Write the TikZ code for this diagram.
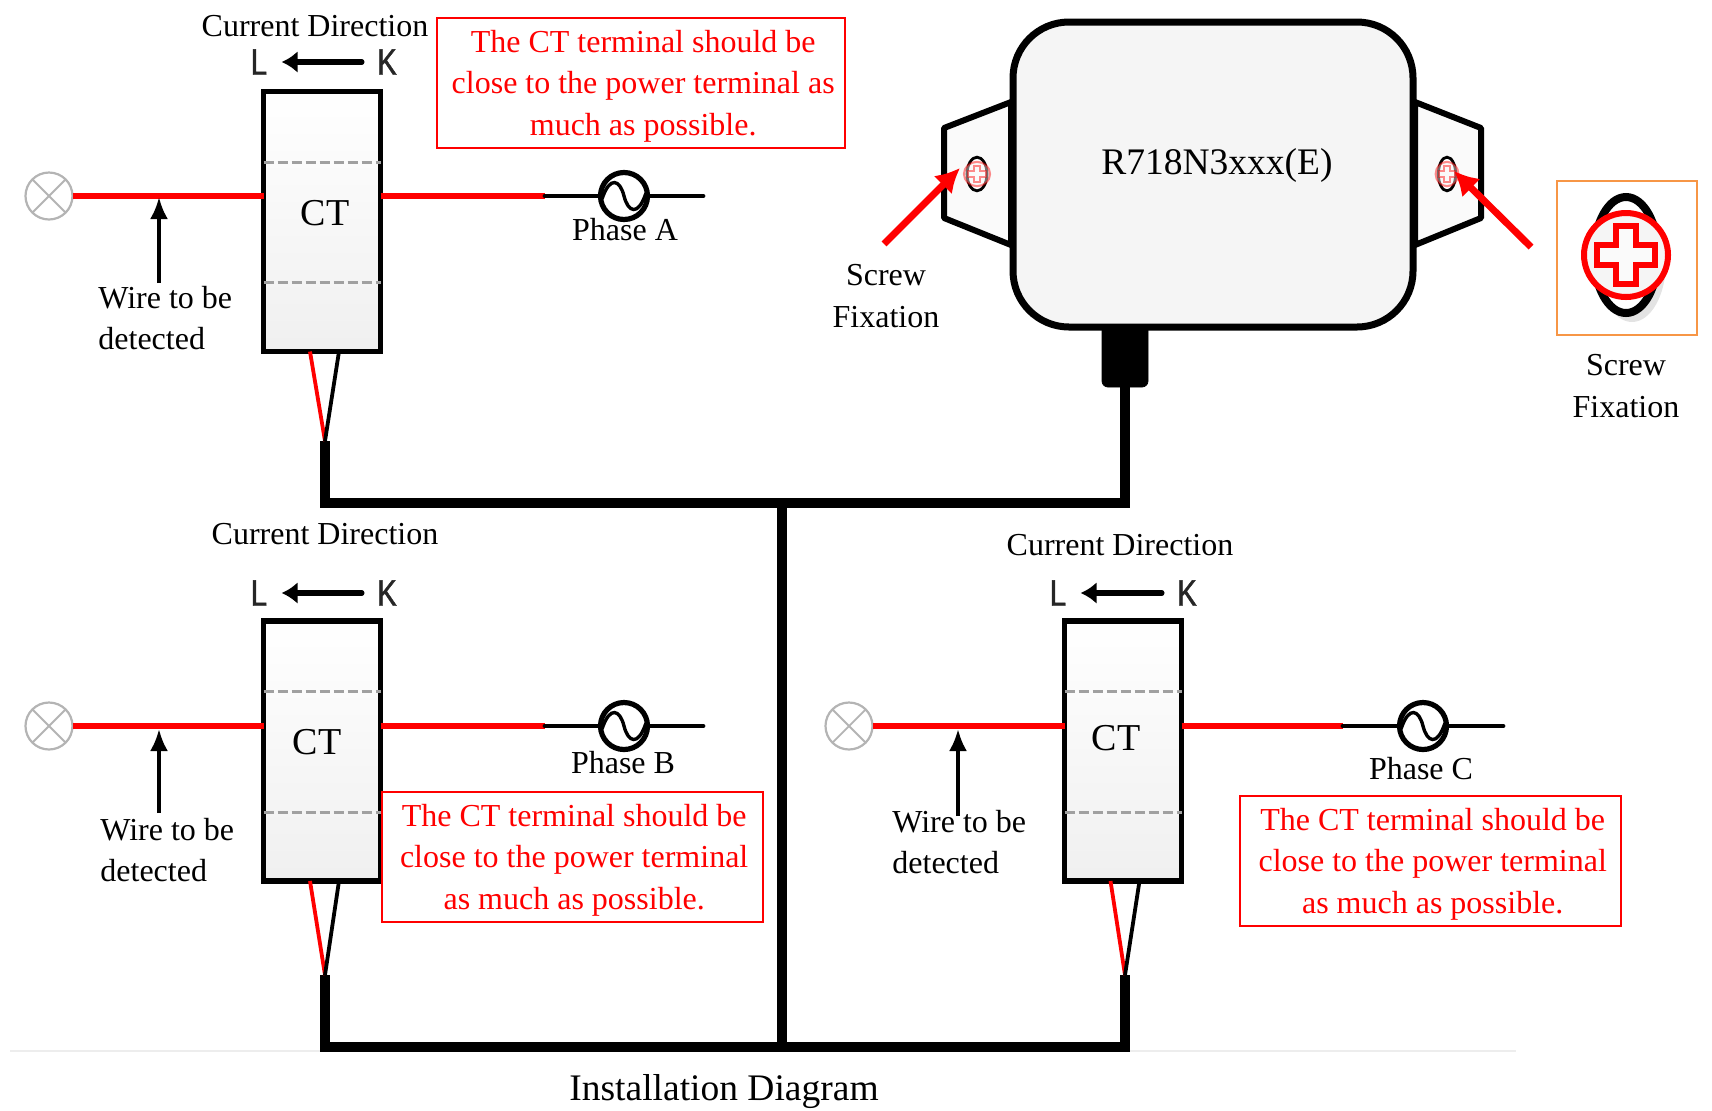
\documentclass[tikz,border=0pt]{standalone}
\usepackage{fontspec}
\setmainfont{Liberation Serif}
\newfontfamily\lkfont[FakeStretch=0.8,FakeBold=1.2]{Liberation Sans}
\usetikzlibrary{arrows.meta,calc}
\definecolor{oboxc}{HTML}{F79646}
\definecolor{lampc}{HTML}{B4B4B4}
\definecolor{dashc}{HTML}{A0A0A0}
\newcommand{\topstrut}{\rule{0pt}{14pt}}
\newcommand{\nudge}{\hspace*{2.2pt}}
\tikzset{
  lbl/.style={font=\fontsize{16}{20.8}\selectfont,inner sep=0pt,align=left},
  ctlbl/.style={font=\fontsize{19}{20}\selectfont,inner sep=0pt},
  lk/.style={font=\lkfont\fontsize{18.5}{20}\selectfont,inner sep=0pt,text=black!85},
  redbox/.style={draw=red,line width=1pt,text=red,font=\fontsize{16}{20.75}\selectfont,align=center,inner sep=0pt,outer sep=0pt},
  ctbox/.style={draw=black,line width=2.8pt,top color=white,bottom color=black!6,minimum width=58.5pt,minimum height=130pt,inner sep=0pt,outer sep=0pt},
  lamp/.style={circle,draw=lampc,line width=1.1pt,fill=white,minimum size=23.5pt,inner sep=0pt,outer sep=0pt},
  source/.style={circle,draw=black,line width=2.6pt,fill=white,minimum size=23.5pt,inner sep=0pt,outer sep=0pt},
  redwire/.style={draw=red,line width=2.7pt},
  blackwire/.style={draw=black,line width=2.4pt,line cap=round},
  trunk/.style={draw=black,line width=5pt,line join=miter},
  lead/.style={line width=1.9pt},
  dashline/.style={draw=dashc,line width=1.4pt,dash pattern=on 5pt off 2pt},
  ptr/.style={draw=black,line width=2pt,-{Latex[length=11pt,width=9pt]}},
  dirarrow/.style={draw=black,line width=2.8pt,line cap=round,-{Latex[length=8pt,width=11pt]}},
  redptr/.style={draw=red,line width=3.5pt,-{Latex[length=12pt,width=13pt]}},
}
\newcommand{\sinewave}[1]{%
  \begin{scope}[shift={(#1.center)}]
    \draw[black,line width=1.7pt] (-22,3) .. controls (-14,-21) and (-4,-16) .. (0,0) .. controls (4,16) and (14,21) .. (22,-3);
  \end{scope}}
\newcommand{\lampcross}[1]{%
  \draw[lampc,line width=.9pt] (#1.north west) -- (#1.south east) (#1.north east) -- (#1.south west);}
\newcommand{\screwicon}[5]{% center, xscale, yscale, red opacity, line scale
  \begin{scope}[shift={(#1)},xscale=#2,yscale=#3]
    \draw[black,line width=#5*4pt,fill=white] (0,0) ellipse [x radius=32,y radius=58];
    \draw[red,line width=#5*3pt,fill=black!4,opacity=#4] (0,0) ellipse [x radius=42,y radius=42];
    \draw[red,line width=#5*3pt,fill=black!2,opacity=#4] (-10,-29)--(10,-29)--(10,-10)--(29,-10)--(29,10)--(10,10)--(10,29)--(-10,29)--(-10,10)--(-29,10)--(-29,-10)--(-10,-10)--cycle;
  \end{scope}}
\begin{document}
\begin{tikzpicture}[x=0.5pt,y=-0.5pt]
\useasboundingbox (0,0) rectangle (1712,1110);
% ground line
\coordinate (gl) at (10,1051);
\coordinate (gr) at (1516,1051);
\draw[black!7,line width=1pt] (gl) -- (gr);

% ---------- device
\coordinate (lea) at (1011,102);
\coordinate (leb) at (944,128);
\coordinate (lec) at (944,218);
\coordinate (led) at (1011,245);
\coordinate (rea) at (1415,102);
\coordinate (reb) at (1481,128);
\coordinate (rec) at (1481,218);
\coordinate (red) at (1415,245);
\draw[black,line width=3pt,fill=black!2,line join=round] (lea)--(leb)--(lec)--(led)--cycle;
\draw[black,line width=3pt,fill=black!2,line join=round] (rea)--(reb)--(rec)--(red)--cycle;
\node[draw=black,fill=black,rounded corners=3pt,minimum width=23pt,minimum height=32pt,inner sep=0pt,outer sep=0pt] (plug) at (1125,355) {};
\node[draw=black,line width=3.5pt,fill=black!4,rounded corners=28pt,minimum width=200pt,minimum height=152.5pt,inner sep=0pt,outer sep=0pt] (device) at (1213,174.5) {};
\node[font=\fontsize{18.75}{20}\selectfont,inner sep=0pt] (devlbl) at (1217,165) {R718N3xxx(E)};
\screwicon{977,174}{.31}{.29}{.45}{.35}
\screwicon{1447,174}{.27}{.29}{.45}{.35}
\coordinate (sl0) at (884,244);
\coordinate (sl1) at (960,168);
\coordinate (sr0) at (1531,247);
\coordinate (sr1) at (1454,171);
\draw[redptr] (sl0) -- (sl1);
\draw[redptr] (sr0) -- (sr1);
\node[lbl,align=center] (screwl) at (886,296) {Screw\\Fixation};
\node[draw=oboxc,line width=1pt,minimum width=70pt,minimum height=77pt,inner sep=0pt,outer sep=0pt] (zoombox) at (1627,258) {};
\fill[black!11] (1632,262) ellipse [x radius=34,y radius=60];
\screwicon{1626,255}{1}{1}{1}{1}
\node[lbl,align=center] (screwr) at (1626,386) {Screw\\Fixation};

% ---------- cabling
\coordinate (ja) at (325,441);
\coordinate (ca) at (325,503);
\coordinate (jb) at (325,975);
\coordinate (cb) at (325,1047);
\coordinate (jc) at (1125,975);
\coordinate (cc) at (1125,1047);
\coordinate (tt) at (782,503);
\coordinate (tb) at (782,1047);
\draw[trunk] (ja) -- (ca) -- (ca -| plug.south) -- (plug.south);
\draw[trunk] (tt) -- (tb);
\draw[trunk] (jb) -- (cb) -- (cc) -- (jc);

% ---------- phase A
\node[ctbox] (cta) at (322,221.5) {};
\node[ctlbl] (ctlbla) at (325,213) {CT};
\draw[dashline] ($(cta.north west)!.272!(cta.south west)$) -- ($(cta.north east)!.272!(cta.south east)$);
\draw[dashline] ($(cta.north west)!.735!(cta.south west)$) -- ($(cta.north east)!.735!(cta.south east)$);
\node[lamp] (lampa) at (49,196) {}; \lampcross{lampa}
\node[source] (srca) at (624,196) {}; \sinewave{srca}
\coordinate (spa) at (545,196);
\coordinate (enda) at (703,196);
\draw[redwire] (lampa.east) -- (lampa.east -| cta.west);
\draw[redwire] (spa -| cta.east) -- (spa);
\draw[blackwire] (spa) -- (srca.west);
\draw[blackwire] (srca.east) -- (enda);
\draw[red,lead] ([xshift=-6pt]cta.south) -- (ja);
\draw[black,lead] ([xshift=8.5pt]cta.south) -- (ja);
\coordinate (pa0) at (159,283);
\coordinate (pa1) at (159,197);
\draw[ptr] (pa0) -- (pa1);
\node[lbl,anchor=west] (wirea) at (98,318) {Wire to be\\detected};
\node[lbl] (pha) at (625,230) {Phase A};
\node[lbl] (cura) at (315,26) {Current Direction};
\node[lk] (la) at (259,62) {L};
\node[lk] (ka) at (387,62) {K};
\draw[dirarrow] ([xshift=-7.5pt]ka.west) -- ([xshift=7pt]la.east);
\node[redbox,minimum width=204pt,minimum height=65pt] (notea) at (641,83) {\topstrut\nudge The CT terminal should be\\\nudge close to the power terminal as\\\nudge much as possible.};

% ---------- phase B
\node[ctbox] (ctb) at (322,751) {};
\node[ctlbl] (ctlblb) at (317,742) {CT};
\draw[dashline] ($(ctb.north west)!.272!(ctb.south west)$) -- ($(ctb.north east)!.272!(ctb.south east)$);
\draw[dashline] ($(ctb.north west)!.735!(ctb.south west)$) -- ($(ctb.north east)!.735!(ctb.south east)$);
\node[lamp] (lampb) at (49,726) {}; \lampcross{lampb}
\node[source] (srcb) at (624,726) {}; \sinewave{srcb}
\coordinate (spb) at (545,726);
\coordinate (endb) at (703,726);
\draw[redwire] (lampb.east) -- (lampb.east -| ctb.west);
\draw[redwire] (spb -| ctb.east) -- (spb);
\draw[blackwire] (spb) -- (srcb.west);
\draw[blackwire] (srcb.east) -- (endb);
\draw[red,lead] ([xshift=-6pt]ctb.south) -- (jb);
\draw[black,lead] ([xshift=8.5pt]ctb.south) -- (jb);
\coordinate (pb0) at (159,813);
\coordinate (pb1) at (159,729);
\draw[ptr] (pb0) -- (pb1);
\node[lbl,anchor=west] (wireb) at (100,850) {Wire to be\\detected};
\node[lbl] (phb) at (623,763) {Phase B};
\node[lbl] (curb) at (325,534) {Current Direction};
\node[lk] (lb) at (259,593) {L};
\node[lk] (kb) at (387,593) {K};
\draw[dirarrow] ([xshift=-7.5pt]kb.west) -- ([xshift=7pt]lb.east);
\node[redbox,minimum width=190.5pt,minimum height=65pt] (noteb) at (572,857) {\topstrut\nudge The CT terminal should be\\\nudge close to the power terminal\\\nudge as much as possible.};

% ---------- phase C
\node[ctbox] (ctc) at (1123,751) {};
\node[ctlbl] (ctlblc) at (1116,738) {CT};
\draw[dashline] ($(ctc.north west)!.272!(ctc.south west)$) -- ($(ctc.north east)!.272!(ctc.south east)$);
\draw[dashline] ($(ctc.north west)!.735!(ctc.south west)$) -- ($(ctc.north east)!.735!(ctc.south east)$);
\node[lamp] (lampc) at (849,726) {}; \lampcross{lampc}
\node[source] (srcc) at (1423,726) {}; \sinewave{srcc}
\coordinate (spc) at (1343,726);
\coordinate (endc) at (1503,726);
\draw[redwire] (lampc.east) -- (lampc.east -| ctc.west);
\draw[redwire] (spc -| ctc.east) -- (spc);
\draw[blackwire] (spc) -- (srcc.west);
\draw[blackwire] (srcc.east) -- (endc);
\draw[red,lead] ([xshift=-6.25pt]ctc.south) -- (jc);
\draw[black,lead] ([xshift=8.25pt]ctc.south) -- (jc);
\coordinate (pc0) at (958,816);
\coordinate (pc1) at (958,729);
\draw[ptr] (pc0) -- (pc1);
\node[lbl,anchor=west] (wirec) at (892,842) {Wire to be\\detected};
\node[lbl] (phc) at (1421,769) {Phase C};
\node[lbl] (curc) at (1120,545) {Current Direction};
\node[lk] (lc) at (1058,593) {L};
\node[lk] (kc) at (1187,593) {K};
\draw[dirarrow] ([xshift=-7.5pt]kc.west) -- ([xshift=7pt]lc.east);
\node[redbox,minimum width=190.5pt,minimum height=65pt] (notec) at (1430.5,861) {\topstrut\nudge The CT terminal should be\\\nudge close to the power terminal\\\nudge as much as possible.};

% ---------- caption
\node[font=\fontsize{18.75}{20}\selectfont,inner sep=0pt] (cap) at (724,1092) {Installation Diagram};
\end{tikzpicture}
\end{document}
